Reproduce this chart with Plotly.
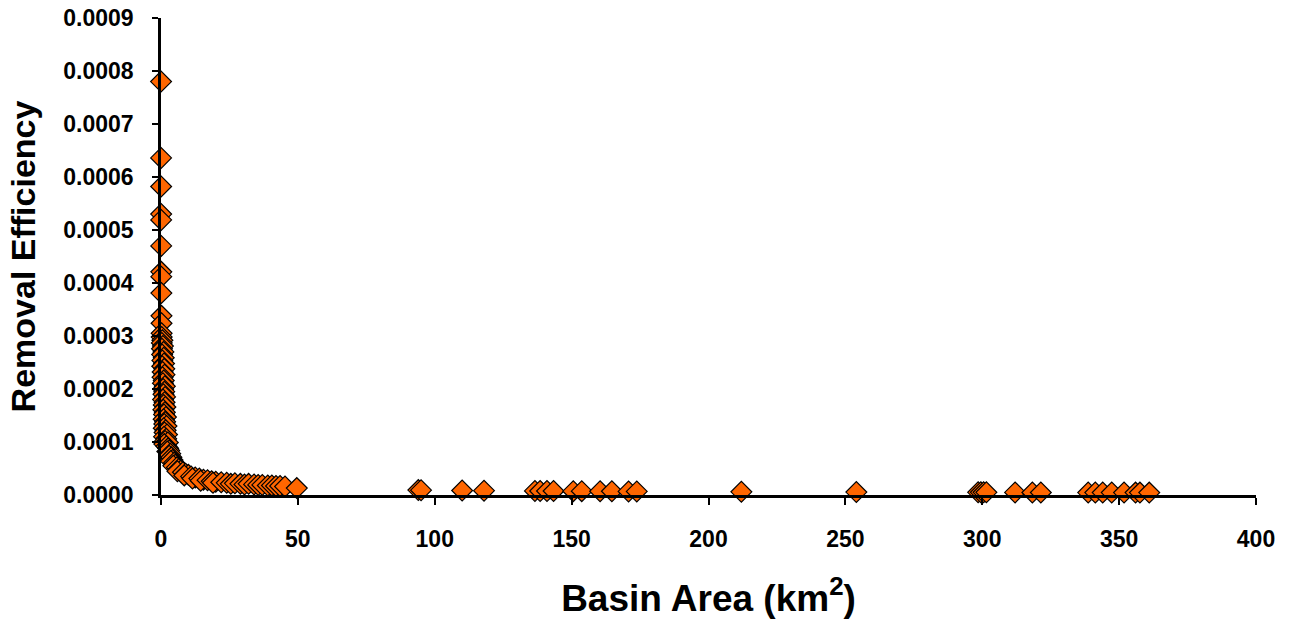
import plotly.graph_objects as go

# Basin area (km^2) and removal efficiency
area_top = [0.02, 0.04, 0.05, 0.06, 0.07, 0.08, 0.10, 0.11, 0.13, 0.17, 0.19, 0.22]
eff_top = [0.000780, 0.000636, 0.000582, 0.000530, 0.000519, 0.000470, 0.000421,
           0.000412, 0.000381, 0.000338, 0.000324, 0.000305]

area_dense = [0.25, 0.5, 0.3, 0.7, 0.35, 0.9, 0.4, 1.0, 0.5, 1.1, 0.45, 1.2, 0.6, 1.3,
              0.55, 1.0, 0.7, 1.4, 0.8, 1.2, 0.9, 1.5, 0.75, 1.3, 1.0, 1.6, 0.85, 1.4,
              1.1, 1.8, 0.95, 1.5, 1.2, 2.0, 1.0, 1.7, 1.3, 2.2, 1.1, 1.9, 1.5, 2.5, 1.2]
eff_dense = [0.000298, 0.000292, 0.000287, 0.000281, 0.000276, 0.000270, 0.000265,
             0.000259, 0.000254, 0.000248, 0.000243, 0.000238, 0.000232, 0.000227,
             0.000222, 0.000216, 0.000211, 0.000205, 0.000200, 0.000195, 0.000190,
             0.000185, 0.000180, 0.000175, 0.000170, 0.000166, 0.000161, 0.000156,
             0.000152, 0.000147, 0.000143, 0.000138, 0.000134, 0.000130, 0.000126,
             0.000122, 0.000118, 0.000114, 0.000110, 0.000106, 0.000102, 0.000099,
             0.000096]

area_curve = [2.0, 2.6, 3.0, 2.3, 3.4, 3.0, 3.8, 4.2, 3.6, 4.8, 5.2, 4.5, 5.8, 6.5,
              7.2, 6.0, 8.0, 9.0, 10.0, 8.5, 11.0, 12.5, 11.5, 14.0, 15.5, 14.5, 17.0,
              18.5, 20.0, 19.0, 22.0, 24.0, 25.5, 27.0, 29.0, 30.5, 32.0, 34.0, 35.5,
              37.0, 39.0, 40.5, 42.0, 43.5, 45.3, 49.6]
eff_curve = [0.000092, 0.000088, 0.000084, 0.000082, 0.000078, 0.000074, 0.000071,
             0.000066, 0.000064, 0.000061, 0.000057, 0.000055, 0.000052, 0.000049,
             0.000046, 0.000045, 0.000043, 0.000040, 0.000038, 0.000037, 0.000035,
             0.000033, 0.000031, 0.000031, 0.000029, 0.000027, 0.000028, 0.000026,
             0.000025, 0.000023, 0.000024, 0.000023, 0.000021, 0.000022, 0.000021,
             0.000020, 0.000021, 0.000020, 0.000019, 0.000019, 0.000018, 0.000018,
             0.000017, 0.000017, 0.000016, 0.000013]

area_far = [94, 95, 110, 118, 136.6, 138.5, 141, 143.4, 150.6, 153.7, 160.4, 164.7,
            170.8, 173.8, 212, 254, 298.5, 299.5, 300.5, 301.5, 312, 318.3, 321.4,
            338.7, 341.3, 344, 347.3, 351.8, 356, 357.6, 361]
eff_far = [0.0000092, 0.0000091, 0.0000085, 0.0000082, 0.0000077, 0.0000076, 0.0000076,
           0.0000075, 0.0000073, 0.0000073, 0.0000070, 0.0000070, 0.0000068, 0.0000068,
           0.0000060, 0.0000055, 0.0000050, 0.0000050, 0.0000050, 0.0000050, 0.0000049,
           0.0000048, 0.0000048, 0.0000046, 0.0000046, 0.0000046, 0.0000046, 0.0000046,
           0.0000045, 0.0000045, 0.0000045]

area = area_top + area_dense + area_curve + area_far
eff = eff_top + eff_dense + eff_curve + eff_far

x_ticks = [0, 50, 100, 150, 200, 250, 300, 350, 400]
y_ticks = [0.0000, 0.0001, 0.0002, 0.0003, 0.0004, 0.0005, 0.0006, 0.0007, 0.0008, 0.0009]

FONT = "Liberation Sans, Arial, sans-serif"

fig = go.Figure()
fig.add_trace(go.Scatter(
    x=area, y=eff, mode="markers",
    marker=dict(symbol="diamond", size=16, color="#FF6600",
                line=dict(color="black", width=1.2)),
    cliponaxis=False, showlegend=False,
))

fig.update_layout(
    width=1291, height=622,
    margin=dict(l=161, r=35, t=18, b=127),
    paper_bgcolor="white", plot_bgcolor="white",
    font=dict(family=FONT, color="black"),
    xaxis=dict(
        range=[0, 400], tickvals=x_ticks, ticktext=[f"<b>{v}</b>" for v in x_ticks],
        showgrid=False, zeroline=False, showline=True, linecolor="black", linewidth=2.5,
        ticks="outside", ticklen=7, tickwidth=2, tickcolor="black",
        tickfont=dict(family=FONT, size=23, color="black"),
        ticklabelstandoff=15,
        title=dict(text="<b>Basin Area (km<sup>2</sup>)</b>",
                   font=dict(family=FONT, size=37, color="black"), standoff=34),
        automargin=False,
    ),
    yaxis=dict(
        range=[0, 0.0009], tickvals=y_ticks, ticktext=[f"<b>{v:.4f}</b>" for v in y_ticks],
        showgrid=False, zeroline=False, showline=True, linecolor="black", linewidth=2.5,
        ticks="outside", ticklen=6, tickwidth=2, tickcolor="black",
        tickfont=dict(family=FONT, size=23, color="black"),
        ticklabelstandoff=14,
        title=dict(text="<b>Removal Efficiency</b>",
                   font=dict(family=FONT, size=34, color="black"), standoff=18),
        automargin=False,
    ),
)

fig.write_html("out.html")
